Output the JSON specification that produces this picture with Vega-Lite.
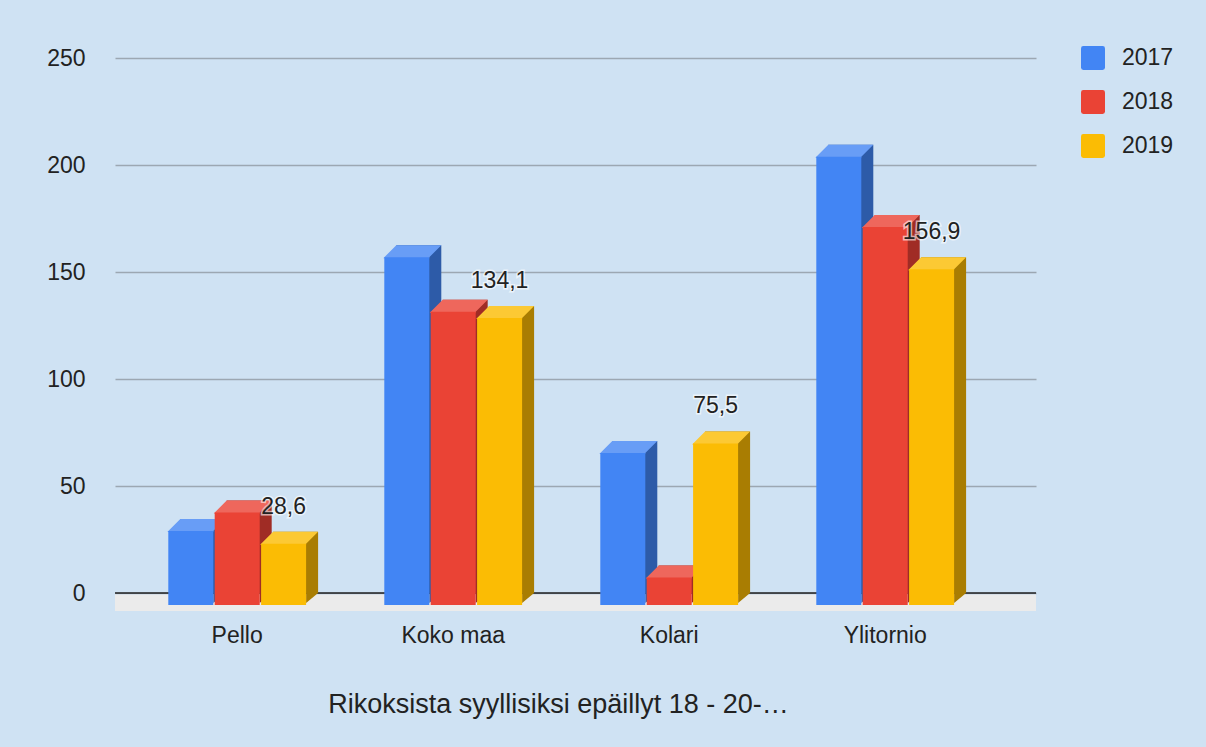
{
  "$schema": "https://vega.github.io/schema/vega-lite/v6.json",
  "width": 921,
  "height": 535,
  "autosize": {"type": "none"},
  "padding": {"left": 115, "top": 58, "right": 170, "bottom": 154},
  "background": "#cfe2f3",
  "config": {
    "font": "Liberation Sans",
    "view": {"stroke": null},
    "locale": {"number": {"decimal": ",", "thousands": "\u00a0", "grouping": [3], "currency": ["", "\u00a0€"]}}
  },
  "data": {"values": [
    {"area": "Pello", "year": "2017", "value": 34.6},
    {"area": "Pello", "year": "2018", "value": 43.2},
    {"area": "Pello", "year": "2019", "value": 28.6},
    {"area": "Koko maa", "year": "2017", "value": 162.5},
    {"area": "Koko maa", "year": "2018", "value": 137.0},
    {"area": "Koko maa", "year": "2019", "value": 134.1},
    {"area": "Kolari", "year": "2017", "value": 71.0},
    {"area": "Kolari", "year": "2018", "value": 12.8},
    {"area": "Kolari", "year": "2019", "value": 75.5},
    {"area": "Ylitornio", "year": "2017", "value": 209.5},
    {"area": "Ylitornio", "year": "2018", "value": 176.6},
    {"area": "Ylitornio", "year": "2019", "value": 156.9}
  ]},
  "layer": [
    {
      "data": {"values": [{"floor": 0}]},
      "mark": {"type": "rule", "color": "#ebebeb", "strokeWidth": 16.5, "yOffset": 9.75},
      "encoding": {"y": {"field": "floor", "type": "quantitative"}}
    },
    {
      "data": {"values": [{"floor": 0}]},
      "mark": {"type": "rule", "color": "#222222", "strokeWidth": 1.6},
      "encoding": {"y": {"field": "floor", "type": "quantitative"}}
    },
    {
      "resolve": {"scale": {"xOffset": "independent"}},
      "encoding": {
        "x": {
          "field": "area", "type": "nominal", "sort": null,
          "scale": {"paddingInner": 0.3065, "paddingOuter": 0.2852, "align": 0.4326},
          "axis": {
            "title": "Rikoksista syyllisiksi epäillyt 18 - 20-…",
            "domain": false, "ticks": false, "grid": false, "labelAngle": 0,
            "labelFontSize": 23, "labelColor": "#222222", "labelOffset": -6,
            "labelPadding": 49, "labelBaseline": "alphabetic",
            "titleFontSize": 27, "titleFontWeight": "normal", "titleColor": "#222222",
            "titleX": 443, "titleY": 119, "titleBaseline": "alphabetic"
          }
        },
        "y": {
          "field": "value", "type": "quantitative",
          "scale": {"domain": [0, 250], "nice": false},
          "axis": {
            "title": null, "values": [0, 50, 100, 150, 200, 250],
            "domain": false, "ticks": false, "labelFontSize": 23, "labelColor": "#222222",
            "labelPadding": 30, "gridColor": "#9ca7b2", "gridWidth": 1.5
          }
        }
      },
      "layer": [
        {
          "mark": {"type": "bar"},
          "encoding": {
            "xOffset": {"field": "year", "type": "nominal", "scale": {"type": "band", "paddingInner": 0.03, "paddingOuter": 0.1292, "align": 1}},
            "fill": {"condition": [
              {"test": "datum.year === '2017'", "value": "#2d5ba8"},
              {"test": "datum.year === '2018'", "value": "#a02c25"}
            ], "value": "#a97d02"}
          }
        },
        {
          "mark": {"type": "point", "shape": "M-23.5,13L22.5,13L22.5,12L34.5,0L-10.5,0Z", "size": 4, "filled": true, "opacity": 1, "strokeWidth": 0},
          "encoding": {
            "xOffset": {"field": "year", "type": "nominal", "scale": {"type": "band", "paddingInner": 0.03, "paddingOuter": 0.1292, "align": 0}},
            "fill": {"condition": [
              {"test": "datum.year === '2017'", "value": "#689df6"},
              {"test": "datum.year === '2018'", "value": "#ee675c"}
            ], "value": "#fcc934"}
          }
        },
        {
          "mark": {"type": "point", "shape": "M22.5,0L22.5,10L34.5,0Z", "size": 4, "filled": true, "opacity": 1, "strokeWidth": 0},
          "encoding": {
            "xOffset": {"field": "year", "type": "nominal", "scale": {"type": "band", "paddingInner": 0.03, "paddingOuter": 0.1292, "align": 0}},
            "y": {"datum": 0, "type": "quantitative"},
            "fill": {"condition": [
              {"test": "datum.year === '2017'", "value": "#2d5ba8"},
              {"test": "datum.year === '2018'", "value": "#a02c25"}
            ], "value": "#a97d02"}
          }
        },
        {
          "mark": {"type": "bar", "yOffset": 12, "y2Offset": 10},
          "encoding": {
            "xOffset": {"field": "year", "type": "nominal", "scale": {"type": "band", "paddingInner": 0.03, "paddingOuter": 0.1292, "align": 0}},
            "color": {
              "field": "year", "type": "nominal",
              "scale": {"domain": ["2017", "2018", "2019"], "range": ["#4285f4", "#ea4335", "#fbbc04"]},
              "legend": {
                "title": null, "orient": "none", "legendX": 966, "legendY": -12,
                "symbolType": "M-1,-0.8Q-1,-1,-0.8,-1L0.8,-1Q1,-1,1,-0.8L1,0.8Q1,1,0.8,1L-0.8,1Q-1,1,-1,0.8Z",
                "symbolSize": 576, "symbolStrokeWidth": 0, "labelFontSize": 23,
                "labelColor": "#222222", "labelOffset": 17, "rowPadding": 20, "padding": 0
              }
            }
          }
        },
        {
          "transform": [{"filter": "datum.year === '2019'"}],
          "mark": {"type": "text", "dy": -25, "fontSize": 23, "fill": "#ffffff", "stroke": "#ffffff", "strokeWidth": 3, "opacity": 0.6, "baseline": "middle"},
          "encoding": {
            "xOffset": {"field": "year", "type": "nominal", "scale": {"type": "band", "domain": ["2017", "2018", "2019"], "paddingInner": 0.03, "paddingOuter": 0.1292, "align": 0}},
            "text": {"field": "value", "type": "quantitative", "format": ".1f"}
          }
        },
        {
          "transform": [{"filter": "datum.year === '2019'"}],
          "mark": {"type": "text", "dy": -25, "fontSize": 23, "color": "#222222", "baseline": "middle"},
          "encoding": {
            "xOffset": {"field": "year", "type": "nominal", "scale": {"type": "band", "domain": ["2017", "2018", "2019"], "paddingInner": 0.03, "paddingOuter": 0.1292, "align": 0}},
            "text": {"field": "value", "type": "quantitative", "format": ".1f"}
          }
        }
      ]
    }
  ]
}
